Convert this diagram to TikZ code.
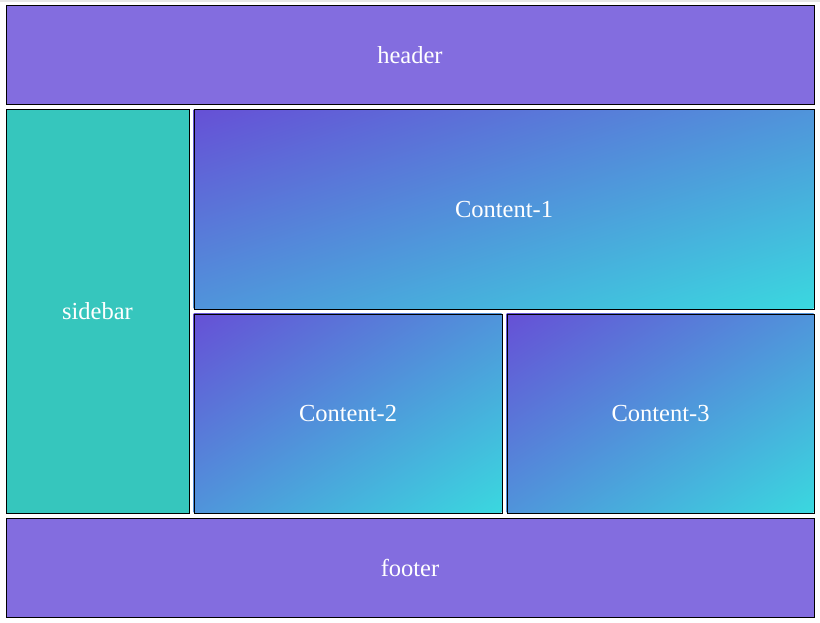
\documentclass[tikz,border=0pt]{standalone}
\usepackage{fontspec}
\setmainfont{Liberation Serif}
\usetikzlibrary{positioning}

\definecolor{headpurple}{HTML}{836DDF}
\definecolor{sideteal}{HTML}{36C6BD}
\definecolor{gradA}{HTML}{6650D6}
\definecolor{gradB}{HTML}{3AD8DF}
\definecolor{topgray}{HTML}{E6E6E6}

\tikzset{
  cell/.style={draw=black, line width=1pt, inner sep=0pt, anchor=north west,
    text=white, font=\fontsize{24.5}{28}\selectfont},
  plain/.style={cell, fill=#1}
}

% box with a corner-to-corner gradient: name, x, y, width, height, text
\newcommand{\gradbox}[6]{%
  \pgfmathsetmacro{\gang}{atan2(#5,#4)}%
  \pgfmathsetmacro{\glen}{2*#5/veclen(#4,#5)*#4}%
  \begin{scope}
    \clip (#2,#3) rectangle ++(#4,#5);
    \begin{scope}[transform canvas={shift={(#2+#4/2,#3+#5/2)}, rotate=\gang}]
      \shade[top color=gradA, bottom color=gradB] (-#4-#5,-\glen/2) rectangle (#4+#5,\glen/2);
    \end{scope}
  \end{scope}
  \node[cell, minimum width=#4pt, minimum height=#5pt] (#1) at (#2,#3) {#6};
}

\begin{document}
\begin{tikzpicture}[x=1pt, y=-1pt]
	\useasboundingbox (0,0) rectangle (820,623);
	\fill[topgray] (0,0) rectangle (820,2);
	% header and footer
	\node[plain=headpurple, minimum width=808pt, minimum height=99pt] (header) at (5.5,5.5) {header};
	\node[plain=headpurple, minimum width=808pt, minimum height=99pt] (footer) at (5.5,517.5) {footer};
	% sidebar
	\node[plain=sideteal, minimum width=183pt, minimum height=403pt] (sidebar) at (5.5,109.5) {sidebar};
	% content
	\gradbox{content1}{193.5}{109.5}{620}{199}{Content-1}
	\gradbox{content2}{193.5}{313.5}{308}{199}{Content-2}
	\gradbox{content3}{506.5}{313.5}{307}{199}{Content-3}
\end{tikzpicture}
\end{document}
